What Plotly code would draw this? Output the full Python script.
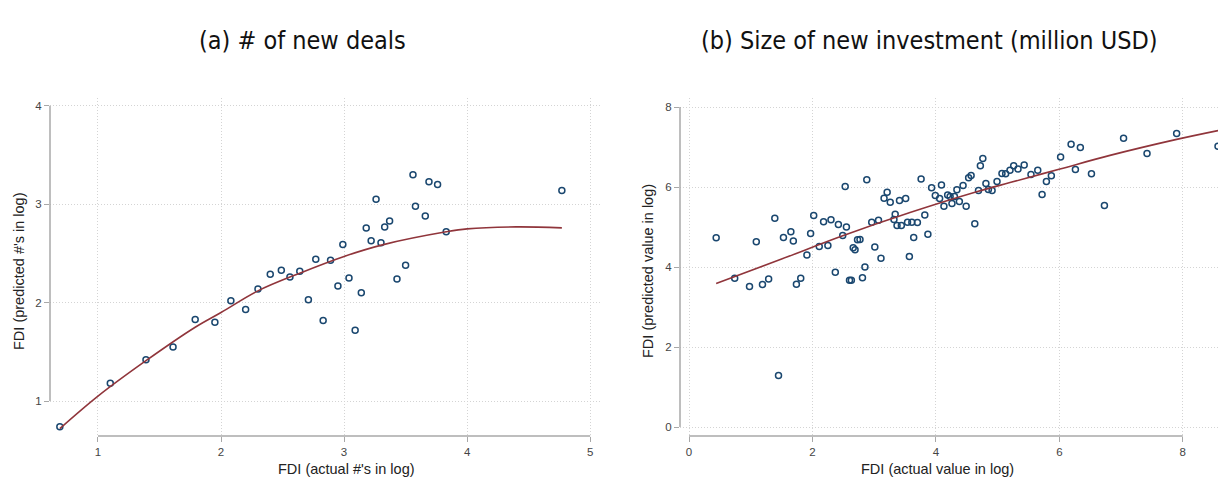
import plotly.graph_objects as go

# ---------------- data: panel (a) ----------------
a_x = [0.69, 1.10, 1.39, 1.61, 1.79, 1.95, 2.08, 2.20, 2.30, 2.40, 2.49, 2.56, 2.64,
       2.71, 2.77, 2.83, 2.89, 2.95, 2.99, 3.04, 3.09, 3.14, 3.18, 3.22, 3.26, 3.30,
       3.33, 3.37, 3.43, 3.50, 3.56, 3.58, 3.66, 3.69, 3.76, 3.83, 4.77]
a_y = [0.74, 1.18, 1.42, 1.55, 1.83, 1.80, 2.02, 1.93, 2.14, 2.29, 2.33, 2.26, 2.32,
       2.03, 2.44, 1.82, 2.43, 2.17, 2.59, 2.25, 1.72, 2.10, 2.76, 2.63, 3.05, 2.61,
       2.77, 2.83, 2.24, 2.38, 3.30, 2.98, 2.88, 3.23, 3.20, 2.72, 3.14]
a_fit_x = [0.69, 1.00, 1.39, 1.79, 2.00, 2.30, 2.64, 3.00, 3.32, 3.83, 4.00, 4.40, 4.77]
a_fit_y = [0.72, 1.05, 1.41, 1.75, 1.90, 2.12, 2.30, 2.47, 2.59, 2.72, 2.75, 2.77, 2.76]

# ---------------- data: panel (b) ----------------
b_x = [0.44, 0.74, 0.98, 1.09, 1.19, 1.29, 1.39, 1.45, 1.53, 1.65, 1.69, 1.74, 1.81,
       1.91, 1.97, 2.02, 2.11, 2.18, 2.25, 2.30, 2.37, 2.42, 2.49, 2.53, 2.55, 2.60,
       2.63, 2.66, 2.69, 2.73, 2.77, 2.81, 2.85, 2.88, 2.96, 3.01, 3.07, 3.11, 3.16,
       3.21, 3.26, 3.32, 3.34, 3.37, 3.41, 3.44, 3.51, 3.54, 3.57, 3.61, 3.64, 3.70,
       3.76, 3.82, 3.87, 3.93, 3.99, 4.06, 4.09, 4.13, 4.19, 4.23, 4.26, 4.30, 4.34,
       4.38, 4.44, 4.49, 4.53, 4.57, 4.63, 4.69, 4.72, 4.76, 4.81, 4.85, 4.91, 4.99,
       5.07, 5.13, 5.20, 5.26, 5.33, 5.43, 5.54, 5.65, 5.72, 5.79, 5.87, 6.02, 6.19,
       6.26, 6.34, 6.52, 6.73, 7.04, 7.42, 7.90, 8.57]
b_y = [4.73, 3.72, 3.51, 4.63, 3.56, 3.70, 5.22, 1.29, 4.74, 4.88, 4.65, 3.57, 3.72,
       4.30, 4.84, 5.29, 4.51, 5.13, 4.54, 5.18, 3.87, 5.06, 4.79, 6.01, 5.00, 3.67,
       3.67, 4.48, 4.43, 4.68, 4.69, 3.73, 4.00, 6.18, 5.12, 4.50, 5.17, 4.22, 5.72,
       5.87, 5.62, 5.19, 5.32, 5.04, 5.66, 5.04, 5.71, 5.12, 4.26, 5.12, 4.74, 5.11,
       6.20, 5.30, 4.82, 5.98, 5.79, 5.71, 6.05, 5.52, 5.80, 5.76, 5.59, 5.76, 5.93,
       5.64, 6.04, 5.52, 6.23, 6.29, 5.08, 5.91, 6.53, 6.71, 6.09, 5.94, 5.91, 6.14,
       6.34, 6.33, 6.42, 6.53, 6.45, 6.55, 6.31, 6.42, 5.81, 6.14, 6.28, 6.75, 7.07,
       6.44, 6.99, 6.33, 5.54, 7.22, 6.84, 7.34, 7.02]
b_fit_x = [0.44, 1.50, 2.49, 3.58, 4.66, 5.20, 6.01, 6.82, 7.90, 8.57]
b_fit_y = [3.59, 4.20, 4.78, 5.36, 5.88, 6.11, 6.45, 6.79, 7.19, 7.41]

# ---------------- axes / labels ----------------
a_xticks = [1, 2, 3, 4, 5]
a_yticks = [1, 2, 3, 4]
b_xticks = [0, 2, 4, 6, 8]
b_yticks = [0, 2, 4, 6, 8]
title_a = "(a) # of new deals"
title_b = "(b) Size of new investment (million USD)"
a_xlabel = "FDI (actual #'s in log)"
a_ylabel = "FDI (predicted #'s in log)"
b_xlabel = "FDI (actual value in log)"
b_ylabel = "FDI (predicted value in log)"

W, H = 1218, 477
NAVY = "#1a476f"
MAROON = "#90353b"
AXIS = "#a8a8a8"
GRID = "#d4d4d4"

marker = dict(symbol="circle", size=6, color="rgba(0,0,0,0)",
              line=dict(color=NAVY, width=1.5))

fig = go.Figure()
fig.add_trace(go.Scatter(x=a_x, y=a_y, mode="markers", marker=marker,
                         xaxis="x", yaxis="y", showlegend=False))
fig.add_trace(go.Scatter(x=a_fit_x, y=a_fit_y, mode="lines",
                         line=dict(color=MAROON, width=1.6, shape="spline", smoothing=1.0),
                         xaxis="x", yaxis="y", showlegend=False))
fig.add_trace(go.Scatter(x=b_x, y=b_y, mode="markers", marker=marker,
                         xaxis="x2", yaxis="y2", showlegend=False))
fig.add_trace(go.Scatter(x=b_fit_x, y=b_fit_y, mode="lines",
                         line=dict(color=MAROON, width=1.6, shape="spline", smoothing=1.0),
                         xaxis="x2", yaxis="y2", showlegend=False))

tickfont = dict(family="Liberation Sans, Arial, sans-serif", size=11.5, color="#444")
common = dict(showline=False, zeroline=False, showgrid=True, gridcolor=GRID,
              griddash="1px,2px", gridwidth=1, ticks="outside", ticklen=5,
              tickcolor=AXIS, tickwidth=1.2, tickfont=tickfont, tickmode="array")

ydom = [(H - 436) / H, (H - 98) / H]
fig.update_layout(
    width=W, height=H,
    margin=dict(l=0, r=0, t=0, b=0),
    paper_bgcolor="white", plot_bgcolor="white",
    xaxis=dict(domain=[50 / W, 600 / W], range=[0.61, 5.08], tickvals=a_xticks,
               anchor="y", **common),
    yaxis=dict(domain=ydom, range=[0.645, 4.08], tickvals=a_yticks,
               anchor="x", **common),
    xaxis2=dict(domain=[680 / W, 1.0], range=[-0.146, 8.57], tickvals=b_xticks,
                anchor="y2", **common),
    yaxis2=dict(domain=ydom, range=[-0.225, 8.225], tickvals=b_yticks,
                anchor="x2", **common),
)

# axis lines spanning only the labelled tick range (Stata style)
for xa, ya, xt, yt in [("x", "y", a_xticks, a_yticks), ("x2", "y2", b_xticks, b_yticks)]:
    fig.add_shape(type="line", xref=xa, x0=min(xt), x1=max(xt),
                  yref=f"{ya} domain", y0=0, y1=0, line=dict(color=AXIS, width=1.5))
    fig.add_shape(type="line", xref=f"{xa} domain", x0=0, x1=0,
                  yref=ya, y0=min(yt), y1=max(yt), line=dict(color=AXIS, width=1.5))

titlefont = dict(family="DejaVu Sans Condensed, Liberation Sans Narrow, sans-serif",
                 size=25, color="#111")
labfont = dict(family="Liberation Sans, Arial, sans-serif", size=14.5, color="#222")
fig.add_annotation(text=title_a, x=302 / W, y=1 - 40 / H, xref="paper", yref="paper",
                   showarrow=False, font=titlefont, xanchor="center", yanchor="middle")
fig.add_annotation(text=title_b, x=929 / W, y=1 - 40 / H, xref="paper", yref="paper",
                   showarrow=False, font=titlefont, xanchor="center", yanchor="middle")
fig.add_annotation(text=a_xlabel, x=346 / W, y=1 - 469 / H, xref="paper", yref="paper",
                   showarrow=False, font=labfont, xanchor="center", yanchor="middle")
fig.add_annotation(text=b_xlabel, x=937 / W, y=1 - 469 / H, xref="paper", yref="paper",
                   showarrow=False, font=labfont, xanchor="center", yanchor="middle")
fig.add_annotation(text=a_ylabel, x=19 / W, y=1 - 271 / H, xref="paper", yref="paper",
                   showarrow=False, font=labfont, textangle=-90,
                   xanchor="center", yanchor="middle")
fig.add_annotation(text=b_ylabel, x=648 / W, y=1 - 271 / H, xref="paper", yref="paper",
                   showarrow=False, font=labfont, textangle=-90,
                   xanchor="center", yanchor="middle")

fig.write_html("out.html",
               config={"displayModeBar": False},
               post_script="document.body.style.margin='0';"
                           "document.body.style.overflow='hidden';")
